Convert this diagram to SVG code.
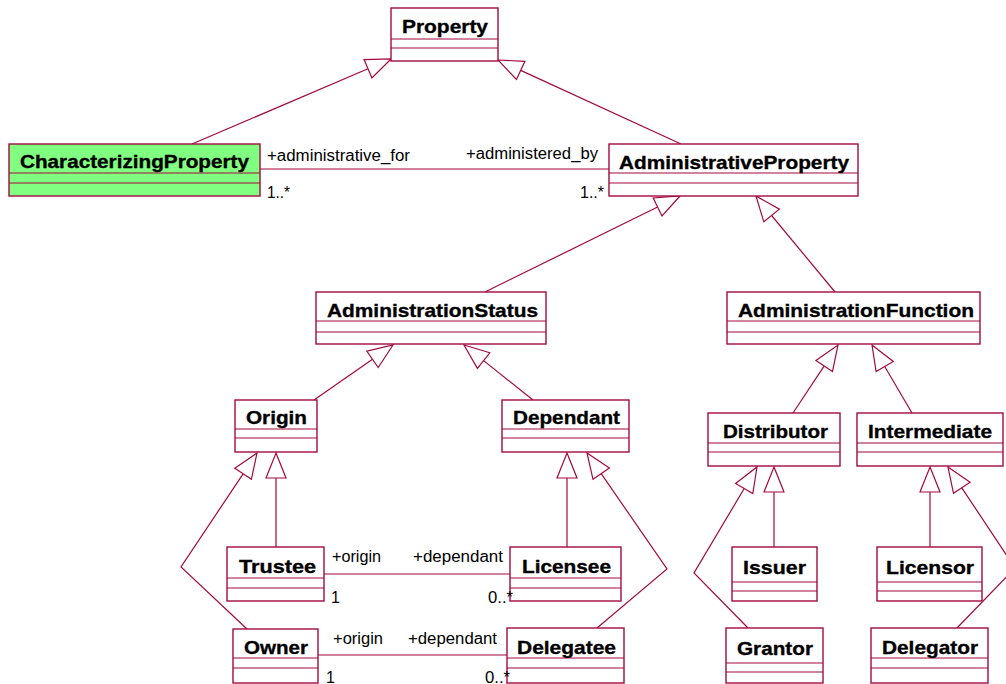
<svg xmlns="http://www.w3.org/2000/svg" width="1006" height="684" viewBox="0 0 1006 684">
  <style>
    .box { fill: #ffffff; stroke: #A3093F; stroke-width: 1.4; }
    .green { fill: #80FF80; }
    .sep { stroke: #A3093F; stroke-width: 1; }
    .name { font-family: "Liberation Sans", Arial, sans-serif; font-weight: bold; font-size: 19px; fill: #000000; stroke: #000000; stroke-width: 0.35; }
    .lbl { font-family: "Liberation Sans", Arial, sans-serif; font-size: 16px; fill: #000000; }
    .edge { fill: none; stroke: #A3093F; stroke-width: 1.2; }
    .tri { fill: #ffffff; stroke: #A3093F; stroke-width: 1.2; }
  </style>
  <rect width="1006" height="684" fill="#ffffff"/>

  <!-- connectors: generalizations and associations -->
  <g id="connectors">
    <!-- CharacterizingProperty -> Property -->
    <polyline class="edge" points="192,144 368,68.8"/>
    <polygon class="tri" points="391,59 371.9,78 364.1,59.6"/>
    <!-- AdministrativeProperty -> Property -->
    <polyline class="edge" points="681,144 520.7,70.4"/>
    <polygon class="tri" points="498,60 524.9,61.3 516.5,79.5"/>
    <!-- AdministrationStatus -> AdministrativeProperty -->
    <polyline class="edge" points="485,292 657.6,207"/>
    <polygon class="tri" points="680,196 662,216 653.2,198"/>
    <!-- AdministrationFunction -> AdministrativeProperty -->
    <polyline class="edge" points="835,292 771.6,215.5"/>
    <polygon class="tri" points="756,196 779.4,209.2 763.8,221.8"/>
    <!-- Origin -> AdministrationStatus -->
    <polyline class="edge" points="314,400 372.5,359.3"/>
    <polygon class="tri" points="393,345 378.2,367.5 366.8,351.1"/>
    <!-- Dependant -> AdministrationStatus -->
    <polyline class="edge" points="533,400 483.6,360.6"/>
    <polygon class="tri" points="464,345 489.8,352.8 477.4,368.4"/>
    <!-- Distributor -> AdministrationFunction -->
    <polyline class="edge" points="793,413 824.2,365.9"/>
    <polygon class="tri" points="838,345 832.5,371.4 815.9,360.4"/>
    <!-- Intermediate -> AdministrationFunction -->
    <polyline class="edge" points="912,413 884.7,366.5"/>
    <polygon class="tri" points="872,345 893.3,361.4 876.1,371.6"/>
    <!-- Trustee -> Origin -->
    <polyline class="edge" points="276,547 276,478"/>
    <polygon class="tri" points="276,453 286,478 266,478"/>
    <!-- Owner -> Origin -->
    <polyline class="edge" points="247,629 181,567 243.1,473.8"/>
    <polygon class="tri" points="257,453 251.4,479.3 234.8,468.3"/>
    <!-- Licensee -> Dependant -->
    <polyline class="edge" points="567,547 567,478"/>
    <polygon class="tri" points="567,453 577,478 557,478"/>
    <!-- Delegatee -> Dependant -->
    <polyline class="edge" points="597,628 667,569 601.2,473.6"/>
    <polygon class="tri" points="587,453 609.4,467.9 593,479.3"/>
    <!-- Issuer -> Distributor -->
    <polyline class="edge" points="774,547 774,492"/>
    <polygon class="tri" points="774,467 784,492 764,492"/>
    <!-- Grantor -> Distributor -->
    <polyline class="edge" points="748,628 694,573 744.2,488.5"/>
    <polygon class="tri" points="757,467 752.8,493.6 735.6,483.4"/>
    <!-- Licensor -> Intermediate -->
    <polyline class="edge" points="930,547 930,492"/>
    <polygon class="tri" points="930,467 940,492 920,492"/>
    <!-- Delegator -> Intermediate -->
    <polyline class="edge" points="957,628 1015,568 961.8,487.8"/>
    <polygon class="tri" points="948,467 970.1,482.3 953.5,493.3"/>

    <!-- associations -->
    <line class="edge" x1="260" y1="169" x2="609" y2="169"/>
    <line class="edge" x1="324" y1="574" x2="510" y2="574"/>
    <line class="edge" x1="318" y1="655" x2="507" y2="655"/>
  </g>

  <!-- classes -->
  <g id="Property">
    <rect class="box" x="391" y="8" width="107" height="53"/>
    <line class="sep" x1="391" y1="39" x2="498" y2="39"/>
    <line class="sep" x1="391" y1="48" x2="498" y2="48"/>
    <text class="name" x="402" y="33" textLength="86" lengthAdjust="spacingAndGlyphs">Property</text>
  </g>
  <g id="CharacterizingProperty">
    <rect class="box green" x="9" y="144" width="251" height="52"/>
    <line class="sep" x1="9" y1="173" x2="260" y2="173"/>
    <line class="sep" x1="9" y1="183" x2="260" y2="183"/>
    <text class="name" x="20" y="168" textLength="229" lengthAdjust="spacingAndGlyphs">CharacterizingProperty</text>
  </g>
  <g id="AdministrativeProperty">
    <rect class="box" x="609" y="144" width="249" height="52"/>
    <line class="sep" x1="609" y1="173" x2="858" y2="173"/>
    <line class="sep" x1="609" y1="183" x2="858" y2="183"/>
    <text class="name" x="619" y="169" textLength="230" lengthAdjust="spacingAndGlyphs">AdministrativeProperty</text>
  </g>
  <g id="AdministrationStatus">
    <rect class="box" x="316" y="292" width="230" height="52"/>
    <line class="sep" x1="316" y1="321" x2="546" y2="321"/>
    <line class="sep" x1="316" y1="332" x2="546" y2="332"/>
    <text class="name" x="327" y="317" textLength="211" lengthAdjust="spacingAndGlyphs">AdministrationStatus</text>
  </g>
  <g id="AdministrationFunction">
    <rect class="box" x="727" y="292" width="253" height="52"/>
    <line class="sep" x1="727" y1="321" x2="980" y2="321"/>
    <line class="sep" x1="727" y1="332" x2="980" y2="332"/>
    <text class="name" x="738" y="317" textLength="236" lengthAdjust="spacingAndGlyphs">AdministrationFunction</text>
  </g>
  <g id="Origin">
    <rect class="box" x="235" y="400" width="82" height="52"/>
    <line class="sep" x1="235" y1="429" x2="317" y2="429"/>
    <line class="sep" x1="235" y1="438" x2="317" y2="438"/>
    <text class="name" x="246" y="424" textLength="61" lengthAdjust="spacingAndGlyphs">Origin</text>
  </g>
  <g id="Dependant">
    <rect class="box" x="502" y="400" width="127" height="52"/>
    <line class="sep" x1="502" y1="429" x2="629" y2="429"/>
    <line class="sep" x1="502" y1="438" x2="629" y2="438"/>
    <text class="name" x="513" y="424" textLength="107" lengthAdjust="spacingAndGlyphs">Dependant</text>
  </g>
  <g id="Distributor">
    <rect class="box" x="708" y="413" width="132" height="53"/>
    <line class="sep" x1="708" y1="443" x2="840" y2="443"/>
    <line class="sep" x1="708" y1="452" x2="840" y2="452"/>
    <text class="name" x="723" y="438" textLength="105" lengthAdjust="spacingAndGlyphs">Distributor</text>
  </g>
  <g id="Intermediate">
    <rect class="box" x="857" y="413" width="146" height="53"/>
    <line class="sep" x1="857" y1="443" x2="1003" y2="443"/>
    <line class="sep" x1="857" y1="452" x2="1003" y2="452"/>
    <text class="name" x="868" y="438" textLength="124" lengthAdjust="spacingAndGlyphs">Intermediate</text>
  </g>
  <g id="Trustee">
    <rect class="box" x="227" y="547" width="97" height="54"/>
    <line class="sep" x1="227" y1="578" x2="324" y2="578"/>
    <line class="sep" x1="227" y1="588" x2="324" y2="588"/>
    <text class="name" x="239" y="573" textLength="77" lengthAdjust="spacingAndGlyphs">Trustee</text>
  </g>
  <g id="Licensee">
    <rect class="box" x="510" y="547" width="111" height="54"/>
    <line class="sep" x1="510" y1="578" x2="621" y2="578"/>
    <line class="sep" x1="510" y1="588" x2="621" y2="588"/>
    <text class="name" x="522" y="573" textLength="89" lengthAdjust="spacingAndGlyphs">Licensee</text>
  </g>
  <g id="Issuer">
    <rect class="box" x="732" y="547" width="85" height="54"/>
    <line class="sep" x1="732" y1="582" x2="817" y2="582"/>
    <line class="sep" x1="732" y1="591" x2="817" y2="591"/>
    <text class="name" x="743" y="574" textLength="63" lengthAdjust="spacingAndGlyphs">Issuer</text>
  </g>
  <g id="Licensor">
    <rect class="box" x="877" y="547" width="105" height="54"/>
    <line class="sep" x1="877" y1="582" x2="982" y2="582"/>
    <line class="sep" x1="877" y1="591" x2="982" y2="591"/>
    <text class="name" x="886" y="574" textLength="88" lengthAdjust="spacingAndGlyphs">Licensor</text>
  </g>
  <g id="Owner">
    <rect class="box" x="233" y="629" width="85" height="54"/>
    <line class="sep" x1="233" y1="658" x2="318" y2="658"/>
    <line class="sep" x1="233" y1="668" x2="318" y2="668"/>
    <text class="name" x="244" y="654" textLength="64" lengthAdjust="spacingAndGlyphs">Owner</text>
  </g>
  <g id="Delegatee">
    <rect class="box" x="507" y="628" width="117" height="55"/>
    <line class="sep" x1="507" y1="658" x2="624" y2="658"/>
    <line class="sep" x1="507" y1="668" x2="624" y2="668"/>
    <text class="name" x="517" y="654" textLength="99" lengthAdjust="spacingAndGlyphs">Delegatee</text>
  </g>
  <g id="Grantor">
    <rect class="box" x="726" y="628" width="97" height="55"/>
    <line class="sep" x1="726" y1="663" x2="823" y2="663"/>
    <line class="sep" x1="726" y1="672" x2="823" y2="672"/>
    <text class="name" x="737" y="655" textLength="76" lengthAdjust="spacingAndGlyphs">Grantor</text>
  </g>
  <g id="Delegator">
    <rect class="box" x="871" y="628" width="117" height="55"/>
    <line class="sep" x1="871" y1="658" x2="988" y2="658"/>
    <line class="sep" x1="871" y1="668" x2="988" y2="668"/>
    <text class="name" x="882" y="654" textLength="96" lengthAdjust="spacingAndGlyphs">Delegator</text>
  </g>

  <!-- association end roles and multiplicities, drawn over the class boxes -->
  <g id="association-labels">
    <text class="lbl" x="267" y="161" textLength="143" lengthAdjust="spacingAndGlyphs">+administrative_for</text>
    <text class="lbl" x="267" y="198" textLength="23" lengthAdjust="spacingAndGlyphs">1..*</text>
    <text class="lbl" x="466" y="159" textLength="132" lengthAdjust="spacingAndGlyphs">+administered_by</text>
    <text class="lbl" x="580" y="198" textLength="24" lengthAdjust="spacingAndGlyphs">1..*</text>

    <text class="lbl" x="332" y="562" textLength="49" lengthAdjust="spacingAndGlyphs">+origin</text>
    <text class="lbl" x="413" y="562" textLength="90" lengthAdjust="spacingAndGlyphs">+dependant</text>
    <text class="lbl" x="331" y="603">1</text>
    <text class="lbl" x="488" y="603" textLength="25" lengthAdjust="spacingAndGlyphs">0..*</text>

    <text class="lbl" x="333" y="644" textLength="50" lengthAdjust="spacingAndGlyphs">+origin</text>
    <text class="lbl" x="408" y="644" textLength="89" lengthAdjust="spacingAndGlyphs">+dependant</text>
    <text class="lbl" x="326" y="683">1</text>
    <text class="lbl" x="485" y="683" textLength="25" lengthAdjust="spacingAndGlyphs">0..*</text>
  </g>
</svg>
